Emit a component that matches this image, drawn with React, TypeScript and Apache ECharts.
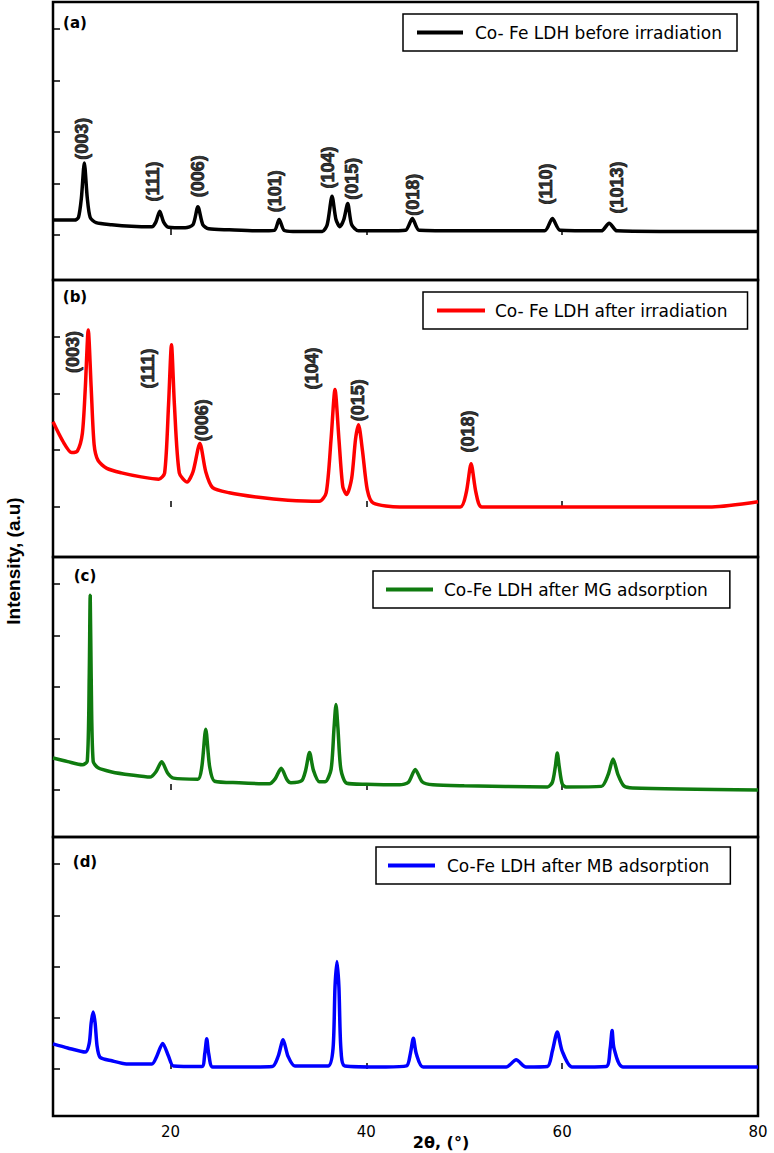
import React, { useEffect, useRef } from 'react';
import * as echarts from 'echarts';

// ---------- data (2θ in degrees, intensity in arbitrary units) ----------
const seriesNames = [
  'Co- Fe LDH before irradiation',
  'Co- Fe LDH after irradiation',
  'Co-Fe LDH after MG adsorption',
  'Co-Fe LDH after MB adsorption',
];

const beforeIrradiation: [number, number][] = [
  [8, 0.29], [10.2, 0.29], [10.6, 0.34], [10.9, 0.72], [11.2, 1.4], [11.5, 0.72], [11.8, 0.34],
  [12.4, 0.24], [14, 0.2], [16, 0.17], [18.1, 0.16], [18.5, 0.25], [18.9, 0.46], [19.3, 0.25],
  [19.8, 0.15], [21.5, 0.14], [22.3, 0.2], [22.8, 0.55], [23.3, 0.2], [23.9, 0.12], [26, 0.1],
  [29, 0.08], [30.6, 0.09], [31.1, 0.3], [31.6, 0.09], [32.5, 0.07], [35.5, 0.07], [36.0, 0.2],
  [36.5, 0.75], [36.9, 0.3], [37.3, 0.16], [37.7, 0.3], [38.1, 0.61], [38.5, 0.2], [39.2, 0.08],
  [42, 0.08], [44.0, 0.09], [44.7, 0.32], [45.4, 0.09], [50, 0.08], [58.2, 0.08], [59.0, 0.32],
  [59.8, 0.09], [64.0, 0.08], [64.8, 0.23], [65.6, 0.08], [70, 0.07], [80, 0.07],
];

const afterIrradiation: [number, number][] = [
  [8, 1.5], [9, 1.16], [9.9, 0.96], [10.5, 0.99], [11.0, 1.3], [11.3, 2.1], [11.6, 3.12],
  [11.9, 2.1], [12.2, 1.1], [12.6, 0.82], [13.5, 0.68], [15, 0.6], [17, 0.53], [18.8, 0.49],
  [19.4, 0.6], [19.8, 1.8], [20.1, 2.86], [20.4, 1.8], [20.9, 0.6], [21.7, 0.44], [22.3, 0.62],
  [23.0, 1.12], [23.6, 0.62], [24.3, 0.34], [26, 0.25], [29, 0.17], [32, 0.12], [35.2, 0.1],
  [35.9, 0.25], [36.4, 1.2], [36.8, 2.07], [37.2, 1.2], [37.6, 0.35], [38.0, 0.22], [38.5, 0.5],
  [38.9, 1.2], [39.2, 1.45], [39.6, 1.0], [40.1, 0.3], [40.7, 0.07], [43.4, 0.0], [49.6, 0.0],
  [50.2, 0.25], [50.7, 0.76], [51.2, 0.25], [51.8, 0.0], [75.3, 0.0], [80, 0.09],
];

const afterMG: [number, number][] = [
  [8, 0.62], [9.5, 0.55], [11.0, 0.49], [11.5, 0.56], [11.7, 2.2], [11.8, 3.78], [11.9, 2.2],
  [12.1, 0.56], [12.6, 0.43], [14, 0.35], [16, 0.29], [17.9, 0.25], [18.5, 0.35], [19.1, 0.55],
  [19.7, 0.33], [20.3, 0.23], [22.8, 0.21], [23.2, 0.45], [23.6, 1.18], [24.0, 0.45], [24.5, 0.17],
  [27, 0.14], [30.1, 0.12], [30.7, 0.22], [31.3, 0.42], [31.9, 0.2], [32.3, 0.14], [33.4, 0.18],
  [33.8, 0.38], [34.2, 0.73], [34.6, 0.38], [35.2, 0.16], [35.8, 0.16], [36.4, 0.4], [36.7, 1.2],
  [36.9, 1.66], [37.1, 1.2], [37.4, 0.4], [38.0, 0.13], [40, 0.11], [43.4, 0.1], [44.3, 0.15],
  [45.0, 0.4], [45.7, 0.16], [46.8, 0.1], [50, 0.08], [58.5, 0.06], [59.0, 0.15], [59.3, 0.45],
  [59.5, 0.72], [59.7, 0.45], [60.0, 0.12], [60.4, 0.06], [64.0, 0.07], [64.7, 0.3], [65.2, 0.6],
  [65.7, 0.3], [66.3, 0.08], [67.2, 0.04], [80, 0.0],
];

const afterMB: [number, number][] = [
  [8, 0.49], [9.5, 0.41], [11.3, 0.33], [11.7, 0.5], [11.9, 0.9], [12.1, 1.11], [12.3, 0.9],
  [12.5, 0.45], [12.8, 0.23], [14, 0.16], [15.5, 0.1], [18.1, 0.1], [18.6, 0.25], [19.2, 0.5],
  [19.8, 0.25], [20.3, 0.06], [23.2, 0.05], [23.5, 0.3], [23.7, 0.59], [23.9, 0.3], [24.3, 0.04],
  [27, 0.04], [30.4, 0.05], [31.0, 0.25], [31.5, 0.57], [32.0, 0.25], [32.7, 0.06], [36.1, 0.06],
  [36.6, 0.4], [36.8, 1.6], [37.0, 2.1], [37.2, 1.6], [37.4, 0.4], [37.8, 0.06], [42, 0.04],
  [44.1, 0.06], [44.5, 0.3], [44.8, 0.6], [45.1, 0.3], [45.8, 0.04], [54.3, 0.04], [55.3, 0.18],
  [56.3, 0.04], [58.5, 0.05], [59.0, 0.35], [59.5, 0.72], [60.0, 0.35], [61.0, 0.04], [64.5, 0.05],
  [64.9, 0.4], [65.1, 0.75], [65.3, 0.4], [66.2, 0.04], [80, 0.04],
];

// Miller-index annotations (label centre in data units)
const hklBefore = [
  { hkl: '(003)', x: 10.96, y: 1.87 },
  { hkl: '(111)', x: 18.2, y: 1.04 },
  { hkl: '(006)', x: 22.8, y: 1.14 },
  { hkl: '(101)', x: 30.65, y: 0.85 },
  { hkl: '(104)', x: 36.06, y: 1.31 },
  { hkl: '(015)', x: 38.5, y: 1.09 },
  { hkl: '(018)', x: 44.73, y: 0.78 },
  { hkl: '(110)', x: 58.3, y: 0.99 },
  { hkl: '(1013)', x: 65.55, y: 0.92 },
];
const hklAfter = [
  { hkl: '(003)', x: 10.04, y: 2.73 },
  { hkl: '(111)', x: 17.7, y: 2.44 },
  { hkl: '(006)', x: 23.2, y: 1.53 },
  { hkl: '(104)', x: 34.5, y: 2.44 },
  { hkl: '(015)', x: 39.1, y: 1.88 },
  { hkl: '(018)', x: 50.35, y: 1.33 },
];

const xTicks = [20, 40, 60];
const xTickLabels = [20, 40, 60, 80];
const yTicks = [0, 1, 2, 3, 4];
const panelTags = ['(a)', '(b)', '(c)', '(d)'];

// ---------- layout / style ----------
const X_MIN = 8;
const X_MAX = 80;
const yMins = [-0.874, -0.882, -0.913, -0.917];
const yMaxs = [4.524, 4.0, 4.524, 4.527];
const gridBoxes = [
  { top: 2, height: 278 },
  { top: 280, height: 277 },
  { top: 557, height: 280 },
  { top: 837, height: 279 },
];
const colors = ['#000000', '#ff0000', '#0f7b0f', '#0000ff'];
const legendBoxes = [
  { left: 403, top: 14, padL: 14, padR: 15, itemW: 46, textPad: 7, textW: 259 },
  { left: 423, top: 292, padL: 14, padR: 20, itemW: 48, textPad: 5, textW: 243 },
  { left: 373, top: 571, padL: 13, padR: 22, itemW: 47, textPad: 6, textW: 280 },
  { left: 376, top: 847, padL: 12, padR: 21, itemW: 47, textPad: 7, textW: 278 },
];
const tagPos = [
  { x: 75, y: 23 },
  { x: 75, y: 297 },
  { x: 85, y: 576 },
  { x: 85, y: 862 },
];

export default function App() {
  const ref = useRef<HTMLDivElement>(null);

  useEffect(() => {
    if (!ref.current) return;
    const chart = echarts.init(ref.current, null, { renderer: 'svg' });
    const curves = [beforeIrradiation, afterIrradiation, afterMG, afterMB];
    const hkls = [hklBefore, hklAfter];

    const option: any = {
      animation: false,
      backgroundColor: '#ffffff',
      grid: gridBoxes.map((g) => ({
        left: 53,
        right: 16,
        top: g.top,
        height: g.height,
        show: true,
        borderColor: '#000',
        borderWidth: 2.5,
        backgroundColor: 'transparent',
      })),
      xAxis: gridBoxes.map((_, i) => ({
        type: 'value',
        gridIndex: i,
        min: X_MIN,
        max: X_MAX,
        axisLine: { show: false },
        splitLine: { show: false },
        axisTick: {
          show: true,
          inside: true,
          length: 6,
          customValues: xTicks,
          lineStyle: { color: '#000', width: 1.5 },
        },
        axisLabel: {
          show: i === 3,
          customValues: xTickLabels,
          margin: 8,
          fontSize: 15,
          fontFamily: 'DejaVu Sans',
          color: '#000',
        },
      })),
      yAxis: gridBoxes.map((_, i) => ({
        type: 'value',
        gridIndex: i,
        min: yMins[i],
        max: yMaxs[i],
        axisLine: { show: false },
        splitLine: { show: false },
        axisLabel: { show: false },
        axisTick: {
          show: true,
          inside: true,
          length: 7,
          customValues: yTicks,
          lineStyle: { color: '#000', width: 1.5 },
        },
      })),
      legend: legendBoxes.map((l, i) => ({
        data: [seriesNames[i]],
        left: l.left,
        top: l.top,
        padding: [10, l.padR, 10, l.padL],
        icon: 'rect',
        itemWidth: l.itemW,
        itemHeight: 4,
        borderColor: '#000',
        borderWidth: 1.5,
        backgroundColor: '#fff',
        selectedMode: false,
        textStyle: {
          fontSize: 17,
          fontFamily: 'DejaVu Sans',
          color: '#000',
          width: l.textW,
          padding: [0, 0, 0, l.textPad],
        },
      })),
      series: [
        ...curves.map((d, i) => ({
          name: seriesNames[i],
          type: 'line',
          xAxisIndex: i,
          yAxisIndex: i,
          data: d,
          symbol: 'none',
          smooth: 0.25,
          lineStyle: { color: colors[i], width: 3.5 },
          itemStyle: { color: colors[i] },
          z: 3,
        })),
        ...hkls.map((lab, i) => ({
          name: 'hkl-' + i,
          type: 'scatter',
          xAxisIndex: i,
          yAxisIndex: i,
          silent: true,
          symbolSize: 1,
          itemStyle: { color: 'rgba(0,0,0,0)' },
          data: lab.map((l) => ({ name: l.hkl, value: [l.x, l.y] })),
          label: {
            show: true,
            formatter: '{b}',
            position: 'inside',
            rotate: 90,
            fontSize: 18,
            fontWeight: 'bold',
            fontFamily: 'Liberation Sans',
            color: '#000',
            textBorderColor: '#000',
            textBorderWidth: 0.8,
          },
          z: 5,
        })),
      ],
      graphic: [
        ...panelTags.map((t, i) => ({
          type: 'text',
          x: tagPos[i].x,
          y: tagPos[i].y,
          style: {
            text: t,
            font: 'bold 15px "DejaVu Sans"',
            fill: '#000',
            align: 'center',
            verticalAlign: 'middle',
          },
        })),
        {
          type: 'text',
          x: 13,
          y: 561,
          rotation: Math.PI / 2,
          style: {
            text: 'Intensity, (a.u)',
            font: 'bold 19px "Liberation Sans"',
            fill: '#000',
            align: 'center',
            verticalAlign: 'middle',
          },
        },
        {
          type: 'text',
          x: 441,
          y: 1142,
          style: {
            text: '2θ, (°)',
            font: 'bold 16px "DejaVu Sans"',
            fill: '#000',
            align: 'center',
            verticalAlign: 'middle',
          },
        },
      ],
    };

    chart.setOption(option);
    return () => chart.dispose();
  }, []);

  return (
    <div
      ref={ref}
      style={{ position: 'absolute', left: 0, top: 0, width: 774, height: 1153, background: '#fff' }}
    />
  );
}
